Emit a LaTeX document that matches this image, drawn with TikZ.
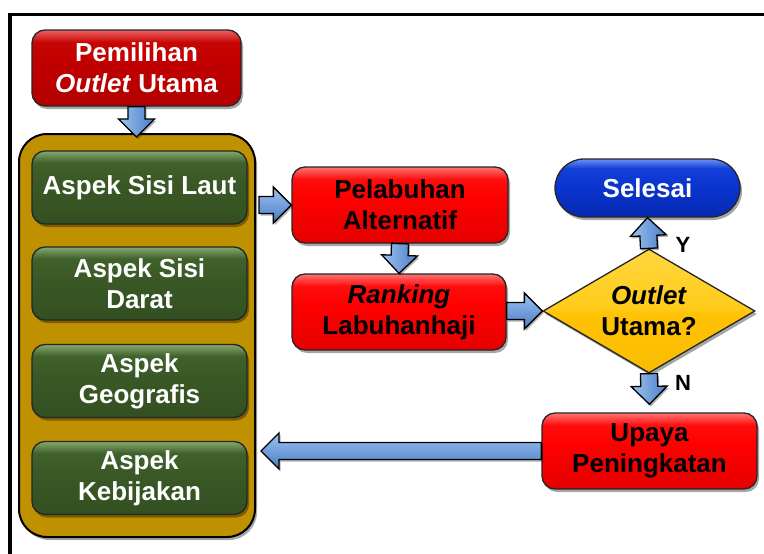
\documentclass[tikz,border=0pt]{standalone}
\usepackage{fontspec}
\setmainfont{Liberation Sans}
\usetikzlibrary{shapes.geometric,shadows,calc}
\definecolor{goldfill}{HTML}{BF9000}
\definecolor{arrlight}{HTML}{9DC3F0}
\definecolor{arrdark}{HTML}{4A7CC6}
\pgfdeclareverticalshading{shdred}{100bp}{rgb(0bp)=(0.70,0,0); rgb(25bp)=(0.70,0,0); rgb(55bp)=(0.76,0,0); rgb(67bp)=(0.78,0.02,0.02); rgb(75bp)=(0.93,0.38,0.38); rgb(100bp)=(0.93,0.38,0.38)}
\pgfdeclareverticalshading{shred}{100bp}{rgb(0bp)=(0.90,0,0); rgb(25bp)=(0.90,0,0); rgb(55bp)=(1,0,0); rgb(67bp)=(1,0.05,0.05); rgb(75bp)=(1,0.45,0.45); rgb(100bp)=(1,0.45,0.45)}
\pgfdeclareverticalshading{shgreen}{100bp}{rgb(0bp)=(0.20,0.31,0.13); rgb(25bp)=(0.20,0.31,0.13); rgb(55bp)=(0.23,0.35,0.15); rgb(67bp)=(0.25,0.38,0.17); rgb(75bp)=(0.52,0.66,0.42); rgb(100bp)=(0.52,0.66,0.42)}
\pgfdeclareverticalshading{shblue}{100bp}{rgb(0bp)=(0.02,0.16,0.70); rgb(25bp)=(0.02,0.16,0.70); rgb(55bp)=(0.05,0.21,0.82); rgb(67bp)=(0.08,0.25,0.85); rgb(75bp)=(0.42,0.56,0.96); rgb(100bp)=(0.42,0.56,0.96)}
\pgfdeclareverticalshading{shyellow}{100bp}{rgb(0bp)=(0.98,0.74,0); rgb(25bp)=(0.98,0.74,0); rgb(49bp)=(1,0.76,0.02); rgb(51bp)=(1,0.80,0.10); rgb(75bp)=(1,0.84,0.25); rgb(100bp)=(1,0.84,0.25)}
\tikzset{
  txt/.style={font=\fontsize{26}{31}\selectfont\bfseries, align=center},
  shad/.style={drop shadow={shadow xshift=2pt, shadow yshift=-3pt, opacity=0.35, fill=black}},
  box/.style={txt, rectangle, rounded corners=13pt, draw=black!85, line width=1.3pt,
    minimum width=215pt, minimum height=76pt, inner sep=0pt, shad},
  darkredbox/.style={box, shading=shdred, text=white},
  redbox/.style={box, shading=shred, text=black},
  greenbox/.style={box, shading=shgreen, text=white, minimum height=73pt},
  container/.style={rectangle, rounded corners=28pt, draw=black, line width=2pt,
    fill=goldfill, shad, minimum width=236pt, minimum height=403pt},
  barrow/.style={to path={let \p1=(\tikztostart), \p2=(\tikztotarget),
      \n1={atan2(\y2-\y1,\x2-\x1)}, \n2={veclen(\x2-\x1,\y2-\y1)} in
      ([shift={(\p1)},rotate=\n1]0pt,8.5pt)
      -- ([shift={(\p1)},rotate=\n1]{\n2*1pt-18pt},8.5pt)
      -- ([shift={(\p1)},rotate=\n1]{\n2*1pt-18pt},18pt)
      -- ([shift={(\p1)},rotate=\n1]{\n2*1pt},0pt)
      -- ([shift={(\p1)},rotate=\n1]{\n2*1pt-18pt},-18pt)
      -- ([shift={(\p1)},rotate=\n1]{\n2*1pt-18pt},-8.5pt)
      -- ([shift={(\p1)},rotate=\n1]0pt,-8.5pt) -- cycle}},
  arr/.style={draw=black, line width=1.3pt, line join=miter,
    drop shadow={shadow xshift=1.5pt, shadow yshift=-2pt, opacity=0.3, fill=black}},
  harr/.style={arr, top color=arrlight, bottom color=arrdark},
  varr/.style={arr, left color=arrlight, right color=arrdark},
  yn/.style={font=\fontsize{22}{26}\selectfont\bfseries, text=black, inner sep=0pt}
}
\begin{document}
\begin{tikzpicture}[x=1pt,y=-1pt]
\useasboundingbox (0,0) rectangle (764,554);
\fill[white] (0,0) rectangle (764,554);
\begin{scope}
\clip (0,0) rectangle (764,554);
\draw[line width=3.3pt] (10,14.3) rectangle (900,700);
\end{scope}

\node[container] (cont) at (137,335.5) {};
\node[darkredbox, minimum width=209pt] (pem) at (136.5,68) {Pemilihan\\\textit{Outlet} Utama};
\node[greenbox] (g1) at (139.5,187.5) {Aspek Sisi Laut};
\node[greenbox] (g2) at (139.5,283.5) {Aspek Sisi\\Darat};
\node[greenbox] (g3) at (139.5,381) {Aspek\\Geografis};
\node[greenbox] (g4) at (139.5,478) {Aspek\\Kebijakan};

\node[redbox, minimum width=216pt] (pel) at (400,205) {Pelabuhan\\Alternatif};
\node[redbox, minimum width=214pt] (rank) at (399,312) {\textit{Ranking}\\Labuhanhaji};
\node[box, shading=shblue, text=white, rounded corners=29pt, minimum width=185pt, minimum height=58pt] (sel) at (647.5,188) {Selesai};
\node[diamond, shading=shyellow, draw=black!85, line width=1.3pt, shad, inner sep=0pt,
  minimum width=212pt, minimum height=124pt,
  label={[txt, text=black]center:{\textit{Outlet}\\Utama?}}] (dec) at (649,311) {};
\node[redbox, minimum width=215pt] (upa) at (649.5,451) {Upaya\\Peningkatan};

\node[yn] (ylab) at (683,245) {Y};
\node[yn] (nlab) at (683,383) {N};

\draw[varr] (pem.south) to[barrow] ([yshift=-4pt]pem.south |- cont.north);
\draw[harr] ([xshift=3pt]cont.east |- pel.west) to[barrow] (pel.west);
\draw[varr] (pel.south) to[barrow] (rank.north);
\draw[harr] (rank.east |- dec.west) to[barrow] (dec.west);
\draw[varr] (dec.north) to[barrow] (sel.south);
\draw[varr] (dec.south) to[barrow] ([yshift=8pt]upa.north);
\draw[harr] (upa.west) to[barrow] ([xshift=5pt]cont.east |- upa.west);
\end{tikzpicture}
\end{document}
